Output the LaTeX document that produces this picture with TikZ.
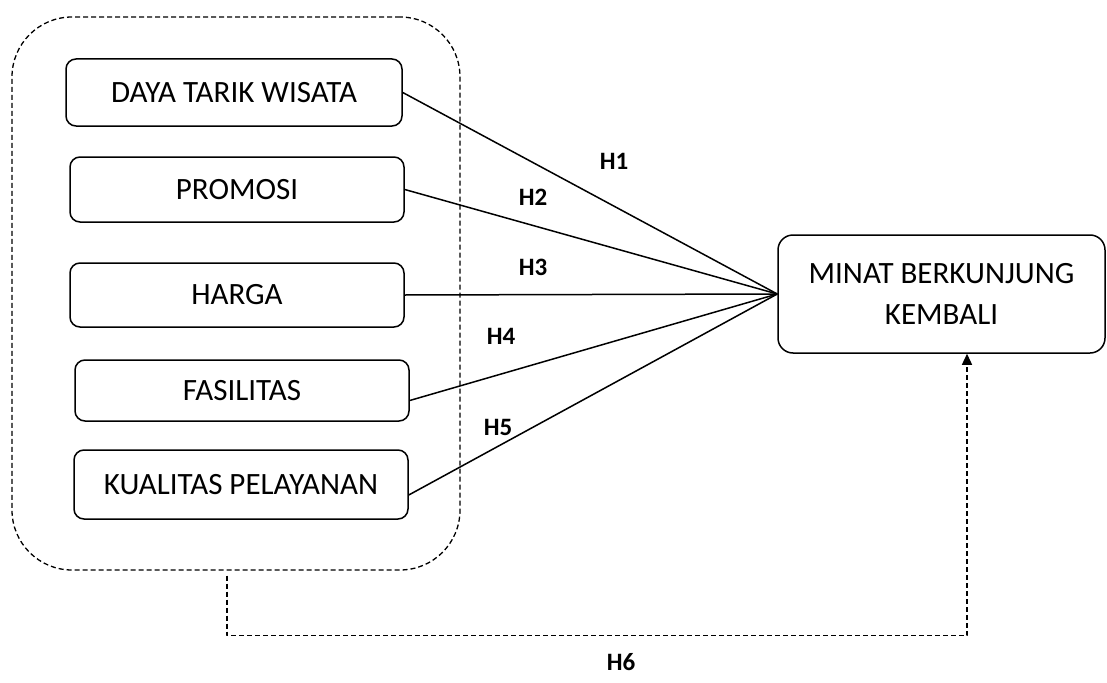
\documentclass[tikz,border=0pt]{standalone}
\usepackage{fontspec}
\setmainfont{Carlito}
\usetikzlibrary{arrows.meta}
\tikzset{
	var/.style={draw, line width=1.5pt, rounded corners=10pt, minimum width=334pt, inner sep=0pt, align=center, font=\fontsize{31}{41}\selectfont},
	hyp/.style={font=\fontsize{25}{30}\selectfont\bfseries},
	dsh/.style={dash pattern=on 5pt off 3pt, line width=1.3pt},
}
\begin{document}
\begin{tikzpicture}[x=1pt, y=-1pt, line join=round, >={Triangle[length=11pt,width=10pt]}]
	\useasboundingbox (0,0) rectangle (1107,682);
	\node[draw, dsh, rounded corners=60pt, minimum width=448pt, minimum height=553pt] (grp) at (236,293.5) {};
	\node[var, minimum width=336pt, minimum height=67pt] (dtw) at (234,92.5) {DAYA TARIK WISATA};
	\node[var, minimum height=65pt] (pro) at (237,189.5) {PROMOSI};
	\node[var, minimum height=64pt] (hrg) at (237,295) {HARGA};
	\node[var, minimum height=61pt] (fas) at (242,390.5) {FASILITAS};
	\node[var, minimum height=69pt] (kp) at (241,484.5) {KUALITAS PELAYANAN};
	\node[var, rounded corners=15pt, minimum width=327pt, minimum height=118pt] (mbk) at (941.5,294) {MINAT BERKUNJUNG\\KEMBALI};
	\draw[line width=1.5pt] (dtw.east) -- (mbk.west);
	\draw[line width=1.5pt] (pro.east) -- (mbk.west);
	\draw[line width=1.5pt] (hrg.east) -- (mbk.west);
	\draw[line width=1.5pt] ([yshift=-10pt]fas.east) -- (mbk.west);
	\draw[line width=1.5pt] ([yshift=-10.5pt]kp.east) -- (mbk.west);
	\draw[dsh, ->] ([xshift=-9pt, yshift=-5pt]grp.south) -- ++(0,60) -| ([xshift=25.5pt]mbk.south);
	\node[hyp] (h1) at (614,161) {H1};
	\node[hyp] (h2) at (533,197) {H2};
	\node[hyp] (h3) at (533,267) {H3};
	\node[hyp] (h4) at (501,336) {H4};
	\node[hyp] (h5) at (498,427) {H5};
	\node[hyp] (h6) at (621,662) {H6};
\end{tikzpicture}
\end{document}
